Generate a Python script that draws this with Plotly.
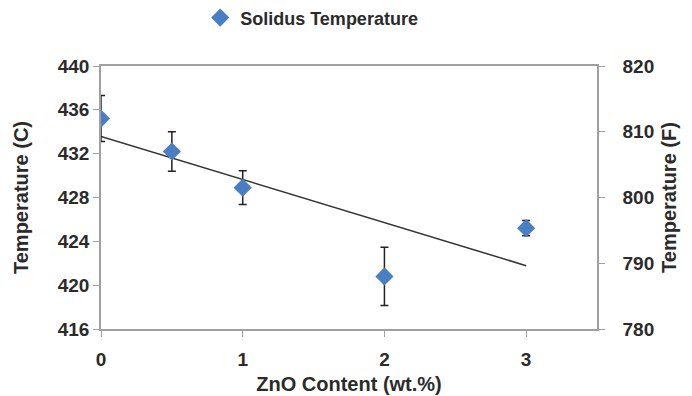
import numpy as np
import plotly.graph_objects as go

# ZnO content (wt.%) and measured solidus temperature (C) with error
zno = [0, 0.5, 1, 2, 3]
solidus_c = [435.2, 432.2, 428.9, 420.8, 425.2]
err_c = [2.1, 1.8, 1.55, 2.65, 0.7]

left_ticks = [416, 420, 424, 428, 432, 436, 440]
right_ticks = [780, 790, 800, 810, 820]
x_ticks = [0, 1, 2, 3]

# least-squares trend line
slope, intercept = np.polyfit(zno, solidus_c, 1)
trend_x = [0, 3]
trend_y = [intercept + slope * v for v in trend_x]

blue = "#4A7EC2"
axis_col = "#A0A0A0"
txt = "#2b2b2b"
font = "Liberation Sans"
tick_font = dict(size=19, family=font, color=txt, weight="bold")
title_font = dict(size=20, family=font, color=txt, weight="bold")

fig = go.Figure()
fig.add_trace(go.Scatter(
    x=trend_x, y=trend_y, mode="lines",
    line=dict(color="#333333", width=1.5),
    showlegend=False, hoverinfo="skip"))
fig.add_trace(go.Scatter(
    x=zno, y=solidus_c, mode="markers", name="Solidus Temperature",
    marker=dict(symbol="diamond", size=14, color=blue),
    error_y=dict(type="data", array=err_c, visible=True,
                 color="#222222", thickness=1.5, width=4)))
# carrier trace for the Fahrenheit axis
fig.add_trace(go.Scatter(
    x=[0], y=[800], yaxis="y2", mode="markers",
    marker=dict(opacity=0), showlegend=False, hoverinfo="skip"))

fig.update_layout(
    width=692, height=396,
    margin=dict(l=101, r=95, t=66, b=67, autoexpand=False),
    plot_bgcolor="white", paper_bgcolor="white",
    font=dict(family=font, color=txt),
    showlegend=True,
    legend=dict(orientation="h", x=0.2, xanchor="left", y=1.183,
                yanchor="middle",
                font=dict(size=18, family=font, color=txt, weight="bold"),
                itemwidth=30),
    xaxis=dict(range=[0, 3.5], tickvals=x_ticks, showgrid=False, zeroline=False,
               showline=True, linecolor=axis_col, linewidth=1.5, mirror=True,
               ticks="outside", ticklen=6, tickcolor=axis_col,
               ticklabelstandoff=6,
               tickfont=tick_font,
               title=dict(text="ZnO Content (wt.%)", standoff=8, font=title_font)),
    yaxis=dict(range=[416, 440], tickvals=left_ticks, showgrid=False, zeroline=False,
               showline=True, linecolor=axis_col, linewidth=1.5,
               ticks="outside", ticklen=6, tickcolor=axis_col,
               tickfont=tick_font,
               title=dict(text="Temperature (C)", standoff=24, font=title_font)),
    yaxis2=dict(range=[780, 820], tickvals=right_ticks, overlaying="y", side="right",
                showgrid=False, zeroline=False,
                showline=True, linecolor=axis_col, linewidth=1.5,
                ticks="outside", ticklen=6, tickcolor=axis_col,
                ticklabelstandoff=14,
                tickfont=tick_font,
                title=dict(text="Temperature (F)", standoff=9, font=title_font)),
)

fig.write_html("out.html")
